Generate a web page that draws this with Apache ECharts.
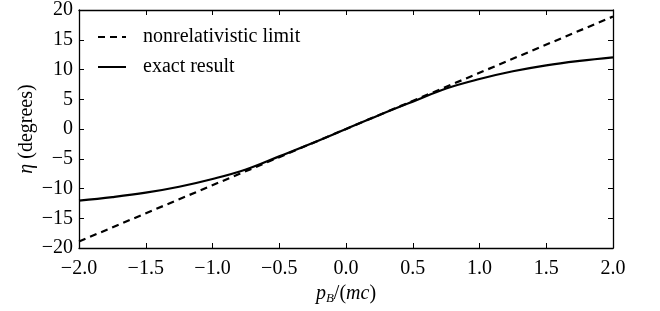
<!DOCTYPE html>
<html>
<head>
<meta charset="utf-8">
<script src="https://cdn.jsdelivr.net/npm/echarts@6/dist/echarts.min.js"></script>
<style>
  html, body { margin: 0; padding: 0; background: #fff; }
  #chart { width: 660px; height: 311px; }
</style>
</head>
<body>
<div id="chart"></div>
<script>
// momentum values p_B/(mc)
const pValues = [-2, -1.75, -1.5, -1.25, -1, -0.75, -0.5, -0.25, 0, 0.25, 0.5, 0.75, 1, 1.25, 1.5, 1.75, 2]
// exact result, eta in degrees
const exactEta = [-12.05, -11.45, -10.7, -9.7, -8.4, -6.8, -4.6, -2.35, 0, 2.35, 4.6, 6.8, 8.4, 9.7, 10.7, 11.45, 12.05]
// nonrelativistic limit (straight line, end points)
const nonrelP = [-2, 2]
const nonrelEta = [-18.9, 18.9]

const FONT = 'Liberation Serif'
const FS = 20
const fmtMinus = (v, digits) => {
  const s = Math.abs(v).toFixed(digits)
  return (v < 0 ? '\u2212' : '') + s
}

const axisLine = { show: true, onZero: false, lineStyle: { color: '#000', width: 1.3 } }
const axisTick = { show: true, inside: true, length: 5, lineStyle: { color: '#000', width: 1 } }

const chart = echarts.init(document.getElementById('chart'), null, { renderer: 'canvas' })

chart.setOption({
  backgroundColor: '#fff',
  animation: false,
  textStyle: { fontFamily: FONT, color: '#000' },
  grid: { left: 79, right: 47, top: 8, bottom: 63, containLabel: false },
  legend: {
    orient: 'vertical',
    left: 92,
    top: 22,
    itemWidth: 28,
    itemHeight: 12,
    itemGap: 10,
    itemStyle: { opacity: 0 },
    textStyle: { fontFamily: FONT, fontSize: FS, color: '#000', padding: [0, 0, 0, 12] },
    data: ['nonrelativistic limit', 'exact result']
  },
  xAxis: [
    {
      type: 'value', min: -2, max: 2, interval: 0.5,
      axisLine, axisTick,
      splitLine: { show: false },
      axisLabel: {
        color: '#000', fontFamily: FONT, fontSize: FS, margin: 11,
        formatter: v => fmtMinus(v, 1)
      },
      name: '{i|p}{s|B}/({i|mc})',
      nameLocation: 'middle',
      nameGap: 34,
      nameTextStyle: {
        fontFamily: FONT, fontSize: FS, color: '#000',
        rich: {
          i: { fontFamily: FONT, fontStyle: 'italic', fontSize: FS },
          s: { fontFamily: FONT, fontStyle: 'italic', fontSize: 13, verticalAlign: 'bottom', padding: [9, 0, 0, 0] }
        }
      }
    },
    {
      type: 'value', min: -2, max: 2, interval: 0.5, position: 'top',
      axisLine, axisTick, axisLabel: { show: false }, splitLine: { show: false }
    }
  ],
  yAxis: [
    {
      type: 'value', min: -20, max: 20, interval: 5,
      axisLine, axisTick,
      splitLine: { show: false },
      axisLabel: {
        color: '#000', fontFamily: FONT, fontSize: FS, margin: 6,
        formatter: v => fmtMinus(v, 0)
      },
      name: '{i|\u03b7} (degrees)',
      nameLocation: 'middle',
      nameRotate: 90,
      nameGap: 42,
      nameMoveOverlap: false,
      nameTextStyle: {
        fontFamily: FONT, fontSize: FS, color: '#000',
        rich: { i: { fontFamily: FONT, fontStyle: 'italic', fontSize: FS } }
      }
    },
    {
      type: 'value', min: -20, max: 20, interval: 5, position: 'right',
      axisLine, axisTick, axisLabel: { show: false }, splitLine: { show: false }
    }
  ],
  series: [
    {
      name: 'nonrelativistic limit',
      type: 'line',
      symbol: 'none',
      data: nonrelP.map((p, i) => [p, nonrelEta[i]]),
      lineStyle: { color: '#000', width: 2.2, type: [7, 5] },
      itemStyle: { color: '#000' }
    },
    {
      name: 'exact result',
      type: 'line',
      symbol: 'none',
      smooth: 0.4,
      data: pValues.map((p, i) => [p, exactEta[i]]),
      lineStyle: { color: '#000', width: 2.2 },
      itemStyle: { color: '#000' }
    }
  ]
})
</script>
</body>
</html>
